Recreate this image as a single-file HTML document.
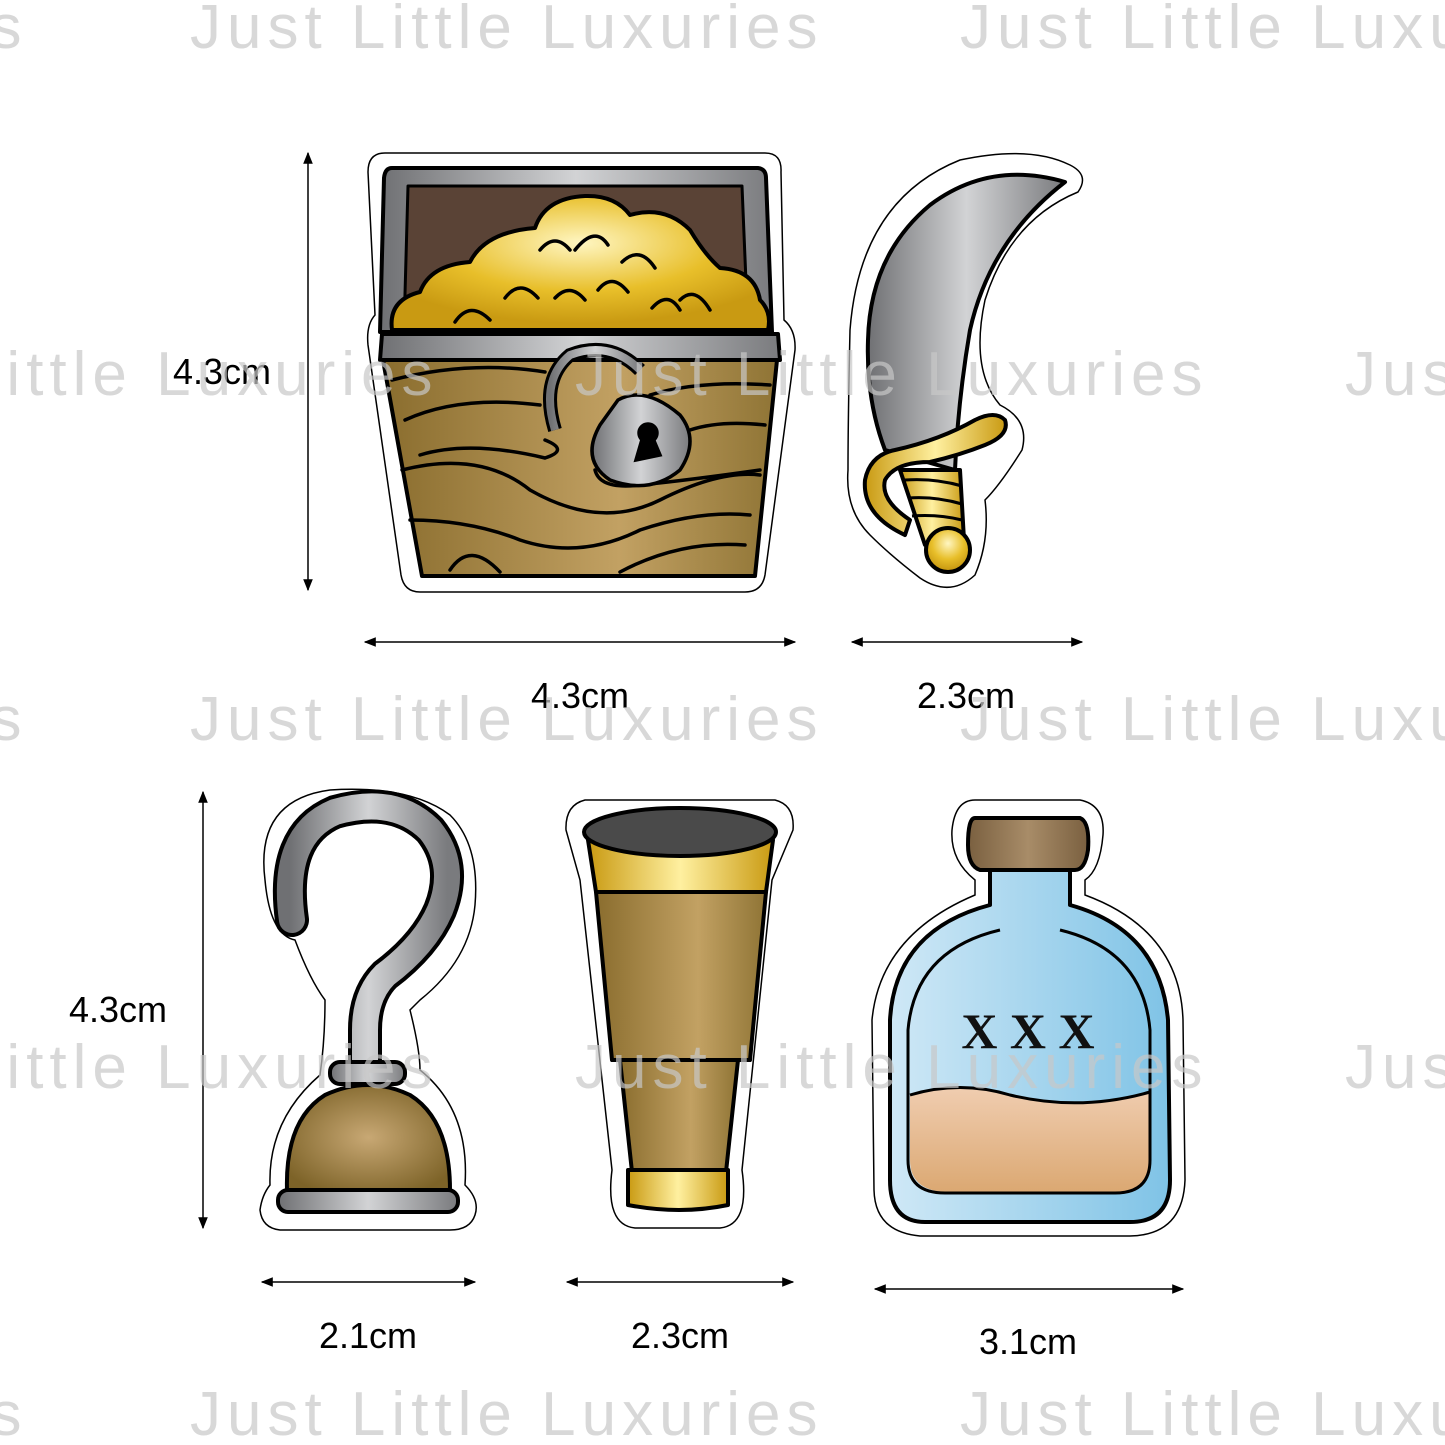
<!DOCTYPE html>
<html><head><meta charset="utf-8"><style>
html,body{margin:0;padding:0;background:#fff;}
svg{display:block;}
</style></head><body>
<svg width="1445" height="1445" viewBox="0 0 1445 1445" xmlns="http://www.w3.org/2000/svg">
<defs>
<linearGradient id="gray" x1="0" x2="1"><stop offset="0" stop-color="#6f7073"/><stop offset="0.5" stop-color="#d2d3d5"/><stop offset="1" stop-color="#7a7b7e"/></linearGradient>
<linearGradient id="wood" x1="0" x2="1"><stop offset="0" stop-color="#8a6d2e"/><stop offset="0.6" stop-color="#c2a163"/><stop offset="1" stop-color="#8f7435"/></linearGradient>
<radialGradient id="gold" cx="0.5" cy="0.35" r="0.6"><stop offset="0" stop-color="#fff6c2"/><stop offset="0.6" stop-color="#e8bf2a"/><stop offset="1" stop-color="#c99a12"/></radialGradient>
<linearGradient id="goldl" x1="0" x2="1"><stop offset="0" stop-color="#c99a12"/><stop offset="0.5" stop-color="#fff0a0"/><stop offset="1" stop-color="#c99a12"/></linearGradient>
<radialGradient id="brownr" cx="0.5" cy="0.5" r="0.6"><stop offset="0" stop-color="#c8a874"/><stop offset="1" stop-color="#7d6328"/></radialGradient>
<linearGradient id="blue" x1="0" x2="1"><stop offset="0" stop-color="#cfe8f6"/><stop offset="1" stop-color="#7fc3e6"/></linearGradient>
<linearGradient id="tan" x1="0" y1="0" x2="0" y2="1"><stop offset="0" stop-color="#f0cdb0"/><stop offset="1" stop-color="#dba872"/></linearGradient>
<linearGradient id="cork" x1="0" x2="1"><stop offset="0" stop-color="#7a6040"/><stop offset="0.5" stop-color="#a88c68"/><stop offset="1" stop-color="#7a6040"/></linearGradient>
<marker id="ar" viewBox="0 0 10 10" refX="9" refY="5" markerWidth="8" markerHeight="8" orient="auto-start-reverse"><path d="M0,1 L10,5 L0,9 Z" fill="#000"/></marker>
</defs>

<g fill="#fff" stroke="#000" stroke-width="1.5">
<path d="M385,153 L765,153 Q782,153 781,172 L784,320 Q796,330 795,350 L765,575 Q762,592 745,592 L420,592 Q404,592 401,575 L368,345 Q366,325 375,315 L368,172 Q368,153 385,153 Z"/>
<path d="M1070,165 Q1090,175 1078,192 Q1010,220 985,300 Q970,370 1000,405 Q1030,420 1022,450 Q1000,485 985,500 Q990,540 975,575 Q950,598 920,578 Q890,555 870,535 Q845,510 848,470 Q848,420 850,330 Q860,200 960,160 Q1030,145 1070,165 Z"/>
<path d="M265,880 Q255,800 330,790 Q410,785 450,815 Q480,845 475,905 Q470,960 420,1000 L410,1010 Q420,1050 420,1070 Q470,1110 465,1185 Q480,1200 475,1215 Q470,1230 450,1230 L280,1230 Q262,1228 260,1210 Q262,1195 270,1185 Q268,1120 320,1075 Q325,1040 325,1000 Q310,980 295,940 Q270,935 265,880 Z"/>
<path d="M585,800 L775,800 Q795,805 793,830 L772,880 L742,1170 Q750,1225 720,1228 L635,1228 Q605,1225 612,1170 L580,880 L566,830 Q565,805 585,800 Z"/>
<path d="M975,800 L1080,800 Q1105,805 1103,835 Q1100,870 1085,880 L1085,895 Q1180,930 1183,1020 L1185,1180 Q1183,1235 1130,1236 L920,1236 Q875,1232 874,1190 L872,1020 Q880,935 975,895 L975,880 Q950,860 952,830 Q955,800 975,800 Z"/>
</g>

<g stroke="#000" stroke-width="4" stroke-linejoin="round">
<path d="M392,168 L758,168 Q766,169 766,178 L772,332 L380,332 L384,178 Q385,168 392,168 Z" fill="url(#gray)"/>
<path d="M408,186 L742,186 L748,330 L404,330 Z" fill="#5a4336" stroke-width="3"/>
<path d="M392,330 Q388,300 420,292 Q430,265 470,262 Q485,232 535,228 Q545,198 585,196 Q615,195 630,215 Q665,205 690,230 Q705,255 720,268 Q755,270 760,300 Q772,312 768,330 Z" fill="url(#gold)"/>
<path d="M382,334 L778,334 L780,360 L380,360 Z" fill="url(#gray)"/>
<path d="M383,360 L777,360 L755,576 L422,576 Z" fill="url(#wood)"/>
</g>
<g fill="none" stroke="#000" stroke-width="3.5" stroke-linecap="round">
<path d="M455,322 Q470,300 490,320"/><path d="M505,298 Q520,278 538,298"/><path d="M540,250 Q555,232 570,250"/>
<path d="M555,298 Q570,282 585,300"/><path d="M598,290 Q612,272 628,292"/><path d="M622,262 Q640,245 655,268"/>
<path d="M652,308 Q668,290 680,310"/><path d="M680,300 Q695,285 710,310"/><path d="M575,250 Q595,225 608,245"/>
<path d="M392,380 Q470,360 545,372"/><path d="M405,420 Q460,395 540,405"/><path d="M420,455 Q470,440 545,458 Q570,450 545,440"/>
<path d="M402,470 Q480,450 530,490 Q600,530 660,500 Q720,470 760,475"/>
<path d="M410,520 Q470,520 520,540 Q580,560 640,530 Q700,510 750,515"/>
<path d="M450,570 Q470,540 500,572"/><path d="M620,572 Q680,540 745,545"/>
<path d="M650,395 Q700,380 770,385"/><path d="M690,430 Q720,420 765,425"/><path d="M595,470 Q600,490 640,485 Q690,480 760,470"/>
</g>
<g stroke="#000" stroke-width="3.5">
<path d="M555,430 Q540,380 570,355 Q610,340 640,370" fill="none" stroke="#000" stroke-width="14"/>
<path d="M555,430 Q540,380 570,355 Q610,340 640,370" fill="none" stroke="url(#gray)" stroke-width="8"/>
<path d="M618,400 Q645,385 680,415 Q700,440 680,470 Q650,495 610,480 Q580,460 600,425 Z" fill="url(#gray)"/>
<circle cx="648" cy="433" r="9" fill="#000"/><path d="M643,436 L636,460 L660,455 L652,436 Z" fill="#000"/>
</g>

<g stroke="#000" stroke-width="4" stroke-linejoin="round">
<path d="M1065,182 Q990,160 930,205 Q870,255 868,340 Q866,400 885,450 L955,470 Q958,400 970,330 Q990,240 1065,182 Z" fill="url(#gray)"/>
<path d="M900,470 L960,470 L964,540 L925,545 Z" fill="url(#goldl)"/>
<path d="M905,480 Q935,478 962,486 M908,498 Q935,496 962,504 M912,516 Q938,514 962,520" fill="none" stroke-width="3"/>
<path d="M895,450 Q870,455 865,480 Q862,515 905,535 L910,520 Q880,500 885,480 Q895,462 930,462 Q960,455 985,445 Q1010,435 1005,420 Q995,410 975,420 Q940,440 895,450 Z" fill="url(#goldl)"/>
<circle cx="948" cy="550" r="22" fill="url(#gold)"/>
</g>

<g fill="none" stroke-linecap="round">
<path d="M292,920 Q280,835 335,812 Q395,795 430,830 Q458,865 440,910 Q425,945 385,975 Q365,995 365,1030 L365,1070" stroke="#000" stroke-width="34"/>
<path d="M292,920 Q280,835 335,812 Q395,795 430,830 Q458,865 440,910 Q425,945 385,975 Q365,995 365,1030 L365,1070" stroke="url(#gray)" stroke-width="26"/>
</g>
<g stroke="#000" stroke-width="4" stroke-linejoin="round">
<rect x="330" y="1062" width="75" height="22" rx="10" fill="url(#gray)"/>
<path d="M287,1190 Q285,1120 325,1095 Q368,1075 410,1095 Q450,1120 450,1190 Z" fill="url(#brownr)"/>
<rect x="278" y="1190" width="180" height="22" rx="10" fill="url(#gray)"/>
</g>

<g stroke="#000" stroke-width="4" stroke-linejoin="round">
<path d="M588,840 L773,840 L766,892 L596,892 Z" fill="url(#goldl)"/>
<path d="M596,892 L766,892 L750,1060 L612,1060 Z" fill="url(#wood)"/>
<path d="M620,1060 L738,1060 L726,1172 L632,1172 Z" fill="url(#wood)"/>
<path d="M628,1170 L728,1170 L728,1205 Q680,1215 628,1205 Z" fill="url(#goldl)"/>
<ellipse cx="680" cy="832" rx="96" ry="24" fill="#4a4a4a"/>
</g>

<g stroke="#000" stroke-width="4" stroke-linejoin="round">
<path d="M990,868 L1070,868 L1070,905 Q1160,930 1168,1020 L1170,1180 Q1170,1222 1130,1222 L925,1222 Q890,1222 890,1180 L890,1020 Q895,930 990,905 Z" fill="url(#blue)"/>
<path d="M975,818 L1080,818 Q1090,822 1088,850 Q1085,870 1075,870 L980,870 Q968,866 968,845 Q968,818 975,818 Z" fill="url(#cork)"/>
<path d="M910,1095 Q960,1080 1010,1095 Q1080,1112 1150,1092 L1150,1160 Q1150,1192 1115,1192 L945,1192 Q910,1190 910,1160 Z" fill="url(#tan)" stroke="none"/>
<path d="M1000,930 Q915,950 908,1030 L908,1160 Q908,1193 945,1193 L1115,1193 Q1150,1193 1150,1160 L1150,1030 Q1143,950 1060,930" fill="none" stroke-width="3"/>
<path d="M910,1095 Q960,1080 1010,1095 Q1080,1112 1150,1092" fill="none" stroke-width="3"/>
</g>
<text x="1028" y="1048" font-family="Liberation Serif, serif" font-weight="bold" font-size="50" text-anchor="middle" fill="#111">X X X</text>

<g stroke="#000" stroke-width="1.5">
<line x1="308" y1="153" x2="308" y2="590" marker-start="url(#ar)" marker-end="url(#ar)"/>
<line x1="365" y1="642" x2="795" y2="642" marker-start="url(#ar)" marker-end="url(#ar)"/>
<line x1="852" y1="642" x2="1082" y2="642" marker-start="url(#ar)" marker-end="url(#ar)"/>
<line x1="203" y1="792" x2="203" y2="1228" marker-start="url(#ar)" marker-end="url(#ar)"/>
<line x1="262" y1="1282" x2="475" y2="1282" marker-start="url(#ar)" marker-end="url(#ar)"/>
<line x1="567" y1="1282" x2="793" y2="1282" marker-start="url(#ar)" marker-end="url(#ar)"/>
<line x1="875" y1="1289" x2="1183" y2="1289" marker-start="url(#ar)" marker-end="url(#ar)"/>
</g>
<g font-family="Liberation Sans, sans-serif" font-size="36" fill="#000" text-anchor="middle">
<text x="222" y="384">4.3cm</text>
<text x="580" y="708">4.3cm</text>
<text x="966" y="708">2.3cm</text>
<text x="118" y="1022">4.3cm</text>
<text x="368" y="1348">2.1cm</text>
<text x="680" y="1348">2.3cm</text>
<text x="1028" y="1354">3.1cm</text>
</g>

<g font-family="Liberation Sans, sans-serif" font-size="62" fill="#c8c8c8" fill-opacity="0.7" letter-spacing="6">
<text x="-50" y="48">es</text><text x="190" y="48">Just Little Luxuries</text><text x="960" y="48">Just Little Luxuries</text>
<text x="-195" y="395">Just Little Luxuries</text><text x="575" y="395">Just Little Luxuries</text><text x="1345" y="395">Just Little Luxuries</text>
<text x="-50" y="740">es</text><text x="190" y="740">Just Little Luxuries</text><text x="960" y="740">Just Little Luxuries</text>
<text x="-195" y="1088">Just Little Luxuries</text><text x="575" y="1088">Just Little Luxuries</text><text x="1345" y="1088">Just Little Luxuries</text>
<text x="-50" y="1435">es</text><text x="190" y="1435">Just Little Luxuries</text><text x="960" y="1435">Just Little Luxuries</text>
</g>
</svg>
</body></html>
